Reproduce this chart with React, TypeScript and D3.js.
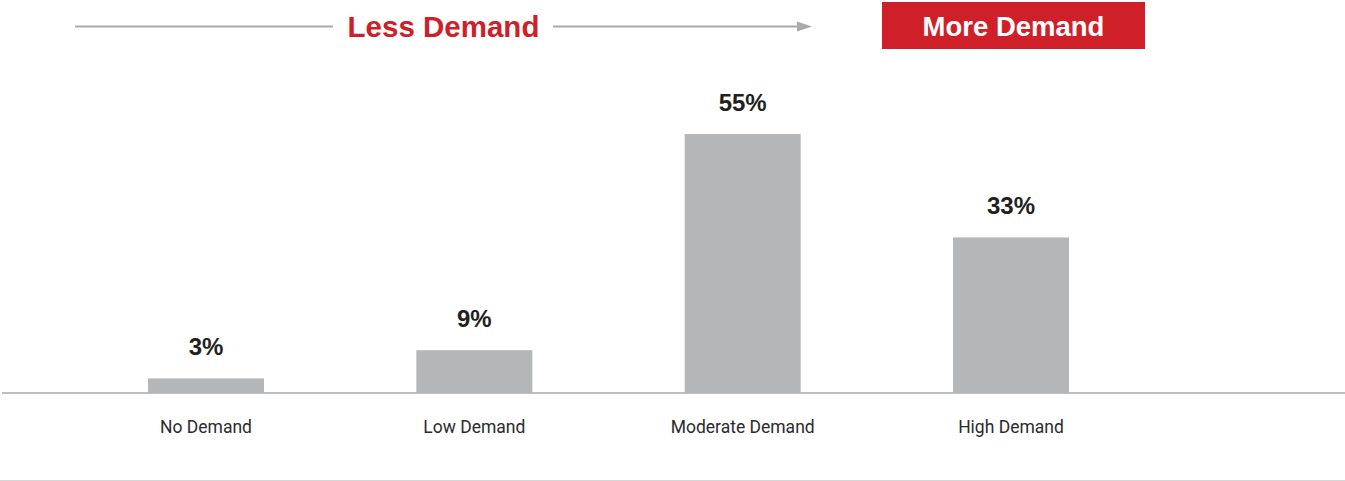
import React from "react";
import * as d3 from "d3";

const categories = ["No Demand", "Low Demand", "Moderate Demand", "High Demand"];
const values = [3, 9, 55, 33];
const valueLabels = ["3%", "9%", "55%", "33%"];
const headerLeft = "Less Demand";
const headerRight = "More Demand";

const W = 1345;
const H = 481;
const RED = "#cf2029";
const BAR = "#b5b6b8";
const LINE = "#a9aaac";

export default function App() {
  const x = d3.scaleBand<string>().domain(categories).range([148, 1069]).paddingInner(0.5677).paddingOuter(0);
  const y = d3.scaleLinear().domain([0, 55]).range([392.5, 134]);
  const base = y(0);

  return (
    <div style={{ position: "absolute", left: 0, top: 0 }}>
      <svg width={W} height={H} style={{ display: "block", background: "#fff" }}>
        {/* header */}
        <line x1={75} x2={333} y1={26.5} y2={26.5} stroke={LINE} strokeWidth={2} />
        <text x={443.5} y={37} textAnchor="middle" fill={RED} fontFamily="'Liberation Sans', Arial, sans-serif" fontWeight="bold" fontSize={29.5}>
          {headerLeft}
        </text>
        <line x1={553} x2={800} y1={26.5} y2={26.5} stroke={LINE} strokeWidth={2} />
        <path d="M797,21.5 L812,26.5 L797,31.5 Z" fill={LINE} />
        <rect x={882} y={2} width={263} height={47} fill={RED} />
        <text x={1013.5} y={35.5} textAnchor="middle" fill="#fff" fontFamily="'Liberation Sans', Arial, sans-serif" fontWeight="bold" fontSize={27.5}>
          {headerRight}
        </text>

        {/* bars */}
        {categories.map((c, i) => (
          <g key={c}>
            <rect x={x(c)} y={y(values[i])} width={x.bandwidth()} height={base - y(values[i])} fill={BAR} />
            <text
              x={(x(c) as number) + x.bandwidth() / 2}
              y={y(values[i]) - 23}
              textAnchor="middle"
              fill="#231f20"
              fontFamily="'Liberation Sans', Arial, sans-serif"
              fontWeight="bold"
              fontSize={24}
            >
              {valueLabels[i]}
            </text>
            <text
              x={(x(c) as number) + x.bandwidth() / 2}
              y={433}
              textAnchor="middle"
              fill="#2b2b2b"
              fontFamily="Roboto, sans-serif"
              fontSize={17.5}
            >
              {c}
            </text>
          </g>
        ))}

        {/* baseline */}
        <line x1={2} x2={W} y1={base + 0.5} y2={base + 0.5} stroke={LINE} strokeWidth={1.5} />
        {/* bottom rule */}
        <line x1={0} x2={W} y1={480.5} y2={480.5} stroke="#d6d6d6" strokeWidth={1} />
      </svg>
    </div>
  );
}
